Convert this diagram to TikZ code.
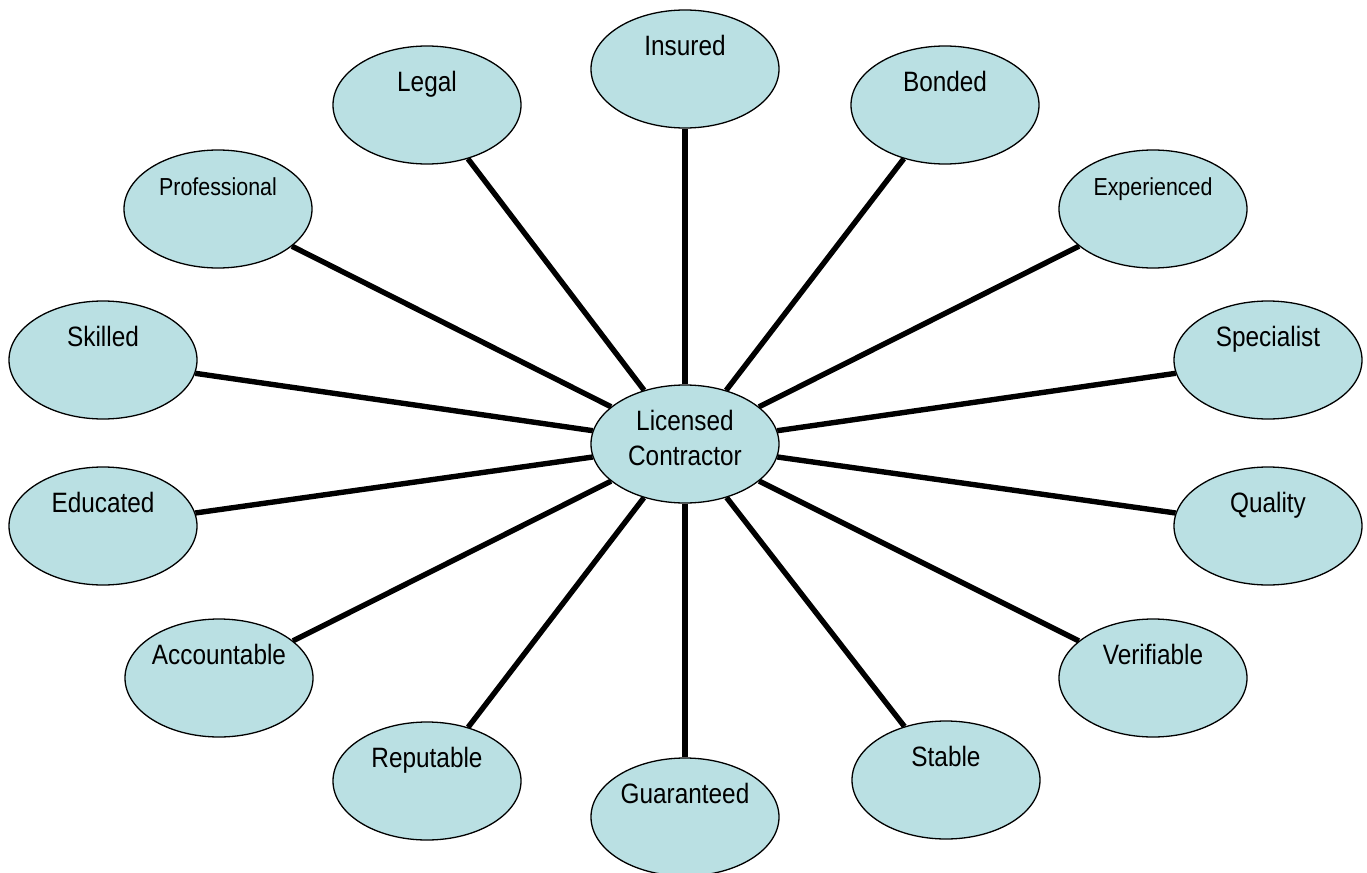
\documentclass[tikz,border=0pt]{standalone}
\usepackage{fontspec}
\setmainfont[FakeStretch=0.87]{Liberation Sans}
\usetikzlibrary{shapes.geometric}
\definecolor{bubblefill}{RGB}{186,224,227}
\tikzset{
  bub/.style={ellipse, draw=black, line width=0.65pt, fill=bubblefill,
    minimum width=94pt, minimum height=59pt, inner sep=0pt},
  txt/.style={anchor=base, inner sep=0pt, font=\fontsize{14}{17.5}\selectfont},
  smalltxt/.style={txt, font=\fontsize{12.3}{14}\selectfont},
  spoke/.style={line width=2.7pt, black}
}
\begin{document}
\begin{tikzpicture}[x=0.5pt,y=-0.5pt]
\useasboundingbox (0,0) rectangle (1367,873);
% nodes
\node[bub] (c) at (685,444) {};
\node[bub] (ins) at (685,69) {};
\node[bub] (leg) at (427,105) {};
\node[bub] (bon) at (945,105) {};
\node[bub] (pro) at (218,209) {};
\node[bub] (exp) at (1153,209) {};
\node[bub] (ski) at (103,360) {};
\node[bub] (spe) at (1268,360) {};
\node[bub] (edu) at (103,526) {};
\node[bub] (qua) at (1268,526) {};
\node[bub] (acc) at (219,678) {};
\node[bub] (ver) at (1153,678) {};
\node[bub] (rep) at (427,781) {};
\node[bub] (sta) at (946,780) {};
\node[bub] (gua) at (685,817) {};
% spokes
\foreach \n in {ins,leg,bon,pro,exp,ski,spe,edu,qua,acc,ver,rep,sta,gua}
  \draw[spoke] (c) -- (\n);
% texts
\node[txt] (tc1) at ([yshift=7pt]c.center) {Licensed};
\node[txt] (tc2) at ([yshift=-10.5pt]c.center) {Contractor};
\node[txt] (tins) at ([yshift=7pt]ins.center) {Insured};
\node[txt] (tleg) at ([yshift=7pt]leg.center) {Legal};
\node[txt] (tbon) at ([yshift=7pt]bon.center) {Bonded};
\node[smalltxt] (tpro) at ([yshift=7pt]pro.center) {Professional};
\node[smalltxt] (texp) at ([yshift=7pt]exp.center) {Experienced};
\node[txt] (tski) at ([yshift=7pt]ski.center) {Skilled};
\node[txt] (tspe) at ([yshift=7pt]spe.center) {Specialist};
\node[txt] (tedu) at ([yshift=7pt]edu.center) {Educated};
\node[txt] (tqua) at ([yshift=7pt]qua.center) {Quality};
\node[txt] (tacc) at ([yshift=7pt]acc.center) {Accountable};
\node[txt] (tver) at ([yshift=7pt]ver.center) {Verifiable};
\node[txt] (trep) at ([yshift=7pt]rep.center) {Reputable};
\node[txt] (tsta) at ([yshift=7pt]sta.center) {Stable};
\node[txt] (tgua) at ([yshift=7pt]gua.center) {Guaranteed};
\end{tikzpicture}
\end{document}
